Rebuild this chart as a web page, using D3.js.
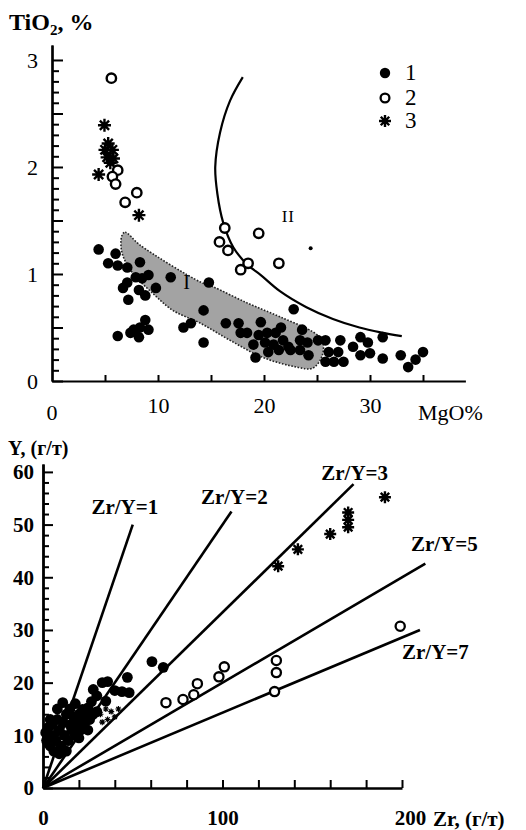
<!DOCTYPE html>
<html><head><meta charset="utf-8">
<script src="https://cdn.jsdelivr.net/npm/d3@7"></script>
<style>
body{margin:0;background:#fff}
text{font-family:"Liberation Serif","Times New Roman",serif;fill:#000}
</style>
</head><body><svg id="c" width="526" height="830"></svg>
<script>
// ---------- Upper diagram: TiO2 vs MgO ----------
// [MgO %, TiO2 %]
const mgoTioGroup1 = [
  [4.4,1.23],[6.0,1.19],[5.3,1.10],[6.2,1.08],[8.3,1.11],[7.1,1.06],[7.9,0.97],[8.5,0.96],
  [9.1,0.99],[11.2,0.97],[6.7,0.87],[7.1,0.92],[8.2,0.85],[8.8,0.80],[9.8,0.87],[7.2,0.76],
  [14.8,0.92],[14.3,0.66],[8.8,0.57],[7.7,0.48],[8.3,0.50],[9.1,0.48],[8.2,0.41],[7.4,0.45],
  [6.2,0.42],[12.4,0.50],[13.1,0.54],[14.3,0.36],[22.8,0.67],[16.4,0.54],[17.6,0.54],
  [19.7,0.55],[21.6,0.50],[17.8,0.45],[18.4,0.45],[19.5,0.43],[20.3,0.45],[21.1,0.45],
  [23.6,0.48],[19.0,0.34],[20.1,0.36],[20.9,0.34],[21.8,0.38],[22.3,0.32],[23.4,0.38],
  [24.1,0.36],[25.1,0.38],[25.8,0.38],[19.2,0.22],[20.4,0.27],[21.4,0.29],[22.5,0.29],
  [23.4,0.29],[24.2,0.24],[26.1,0.27],[27.2,0.38],[27.0,0.27],[25.8,0.18],[26.6,0.18],
  [27.5,0.18],[28.4,0.32],[29.1,0.41],[29.8,0.36],[29.1,0.24],[30.0,0.26],[31.2,0.41],
  [31.2,0.21],[32.9,0.24],[33.6,0.13],[34.3,0.20],[35.0,0.27]
];
const mgoTioGroup1Small = [[24.4,1.24]];
const mgoTioGroup2 = [
  [5.6,2.83],[6.2,1.97],[5.7,1.91],[6.0,1.84],[8.0,1.76],[6.9,1.67],
  [16.3,1.43],[15.8,1.30],[16.6,1.22],[19.5,1.38],[18.5,1.10],[17.8,1.04],[21.4,1.10]
];
const mgoTioGroup3 = [
  [4.95,2.39],[5.3,2.22],[5.0,2.16],[5.7,2.16],[5.2,2.09],[5.8,2.08],[5.5,2.04],[4.4,1.93],[8.2,1.55]
];
// boundary of field II
const fieldIICurve = [
  [18.0,2.84],[16.8,2.62],[15.85,2.32],[15.4,2.0],[15.6,1.75],[16.15,1.48],[17.1,1.25],
  [18.4,1.09],[19.7,0.99],[21.5,0.84],[24.0,0.69],[26.5,0.58],[29.0,0.50],[31.0,0.455],[33.0,0.42]
];
// outline of field I
const fieldIOutline = [
  [6.6,1.36],[6.9,1.39],[8.3,1.27],[14.0,0.925],[15.2,0.88],[18.4,0.73],[21.5,0.60],
  [24.6,0.46],[25.5,0.38],[25.5,0.24],[24.6,0.12],[23.1,0.13],[19.9,0.22],[16.8,0.38],
  [14.0,0.54],[11.4,0.66],[9.5,0.82],[7.6,1.01],[6.6,1.20]
];
const topYLabels = [0,1,2,3];
const topXLabels = [0,10,20,30];
const legendItems = ["1","2","3"];

// ---------- Lower diagram: Y vs Zr ----------
// [Zr g/t, Y g/t]
const zrYGroup1 = [
  [60.7,24.0],[67,22.9],[47,21.0],[44,18.3],[48,18.1],[33,20],[36,20.2],[28,18.7],[30,17.5],
  [11,16.2],[27,16.4],[22,14.9],[25,15.2],[35,16.5],[40,18.5],
  [2,9],[3,11.5],[4,8],[5,12],[6,10],[7,9],[8,13],[9,11],[10,8],[11,12.5],[12,10],[13,14],
  [14,9],[15,12],[16,11],[17,13.5],[18,10],[19,12],[20,14],[21,11],[22,13],[23,12],[24,14],
  [26,13],[28,14],[30,14.5],[6,7],[9,6.5],[13,7],[4,13],[8,15],[15,15],[18,16],[3,8.5],
  [1.5,10.5],[20,9.5],[25,11]
];
const zrYGroup2 = [
  [199,30.7],[130,24.2],[130,21.9],[129,18.3],[101,23.0],[98,21.1],[86,19.8],[84,17.7],[78,16.8],[68.5,16.2]
];
const zrYGroup3 = [[131,42.1],[142,45.3],[160,48.2],[170,52.3],[170,50.9],[170,49.5],[190.5,55.2]];
const zrYGroup3Small = [[32,14],[35,15],[38,14.5],[40,13.5],[36,13],[42,15],[33,12.5]];
const ratioLines = [
  {ratio:1, zrEnd:50,  label:"Zr/Y=1"},
  {ratio:2, zrEnd:105, label:"Zr/Y=2"},
  {ratio:3, zrEnd:173, label:"Zr/Y=3"},
  {ratio:5, zrEnd:213, label:"Zr/Y=5"},
  {ratio:7, zrEnd:210, label:"Zr/Y=7"}
];
const ratioLabelPos = [[27,52],[88,54],[155,58.5],[205,45],[200,24.5]];
const botYLabels = [0,10,20,30,40,50,60];
const botXLabels = [0,100,200];

const svg = d3.select("#c");

function starPath(r){
  let p = "";
  for (let i=0;i<4;i++){
    const a = Math.PI/2 + i*Math.PI/4;
    const dx = r*Math.cos(a), dy = r*Math.sin(a);
    p += `M${-dx},${-dy}L${dx},${dy}`;
  }
  return p;
}

// ================= upper =================
const xT = d3.scaleLinear().domain([0,39]).range([52,465.4]);
const yT = d3.scaleLinear().domain([0,3.14]).range([381,45]);
const gTop = svg.append("g");

// field I
gTop.append("path")
  .datum(fieldIOutline)
  .attr("d", d3.line().x(d=>xT(d[0])).y(d=>yT(d[1])).curve(d3.curveCatmullRomClosed))
  .attr("fill","#a3a3a3").attr("stroke","#222").attr("stroke-width",1.6)
  .attr("stroke-dasharray","1.6,1.6");

// field II boundary
gTop.append("path")
  .datum(fieldIICurve)
  .attr("d", d3.line().x(d=>xT(d[0])).y(d=>yT(d[1])).curve(d3.curveCatmullRom))
  .attr("fill","none").attr("stroke","#000").attr("stroke-width",2.2);

gTop.append("text").attr("x",xT(12.7)).attr("y",yT(0.86)).attr("font-size",20).attr("text-anchor","middle").text("I");
gTop.append("text").attr("x",xT(22.3)).attr("y",yT(1.49)).attr("font-size",17).attr("text-anchor","middle").attr("letter-spacing",1).text("II");

// axes
const yMinorT = d3.range(0,31).map(i=>i/10).filter(v=>Math.round(v*10)%5!==0);
const yMajorT = d3.range(0,7).map(i=>i/2);
gTop.append("g").attr("transform",`translate(${xT(0)},0)`)
  .call(d3.axisLeft(yT).tickValues(yMinorT).tickSize(-7).tickSizeOuter(0).tickFormat(""));
gTop.append("g").attr("transform",`translate(${xT(0)},0)`)
  .call(d3.axisLeft(yT).tickValues(yMajorT).tickSize(-11).tickSizeOuter(0).tickPadding(14)
    .tickFormat(d=>topYLabels.includes(d)?d:""));
gTop.append("g").attr("transform",`translate(0,${yT(0)})`)
  .call(d3.axisBottom(xT).tickValues(d3.range(5,36,5)).tickSize(-6).tickSizeOuter(0)
    .tickPadding(16).tickFormat(d=>topXLabels.includes(d)?d:""));
gTop.append("text").attr("x",xT(0)).attr("y",420).attr("font-size",22).attr("text-anchor","middle").text("0");
gTop.selectAll(".domain").attr("stroke-width",2.2);
gTop.selectAll(".tick line").attr("stroke-width",2);
gTop.selectAll(".tick text").attr("font-size",22).attr("font-family","Liberation Serif");
gTop.append("text").attr("x",418).attr("y",420).attr("font-size",22).text("MgO%");

const tt = gTop.append("text").attr("x",9).attr("y",30).attr("font-size",24).attr("font-weight","bold");
tt.append("tspan").text("TiO");
tt.append("tspan").attr("font-size",15).attr("dy",5).text("2");
tt.append("tspan").attr("dy",-5).text(", %");

// points
gTop.selectAll(".f1").data(mgoTioGroup1).join("circle")
  .attr("cx",d=>xT(d[0])).attr("cy",d=>yT(d[1])).attr("r",5.3).attr("fill","#000");
gTop.selectAll(".f1s").data(mgoTioGroup1Small).join("circle")
  .attr("cx",d=>xT(d[0])).attr("cy",d=>yT(d[1])).attr("r",2).attr("fill","#000");
gTop.selectAll(".f2").data(mgoTioGroup2).join("circle")
  .attr("cx",d=>xT(d[0])).attr("cy",d=>yT(d[1])).attr("r",4.7)
  .attr("fill","#fff").attr("stroke","#000").attr("stroke-width",2.4);
gTop.selectAll(".f3").data(mgoTioGroup3).join("path")
  .attr("transform",d=>`translate(${xT(d[0])},${yT(d[1])})`).attr("d",starPath(6.5))
  .attr("stroke","#000").attr("stroke-width",2.4).attr("fill","none");

// legend
const lg = gTop.append("g");
const legY = [73,98,121];
lg.append("circle").attr("cx",385).attr("cy",legY[0]).attr("r",5.2).attr("fill","#000");
lg.append("circle").attr("cx",385).attr("cy",legY[1]).attr("r",4.4).attr("fill","#fff").attr("stroke","#000").attr("stroke-width",2.3);
lg.append("path").attr("transform",`translate(385,${legY[2]})`).attr("d",starPath(6)).attr("stroke","#000").attr("stroke-width",2.4);
lg.selectAll("text").data(legendItems).join("text")
  .attr("x",405).attr("y",(d,i)=>legY[i]+7).attr("font-size",23).text(d=>d);

// ================= lower =================
const xB = d3.scaleLinear().domain([0,200]).range([43,402]);
const yB = d3.scaleLinear().domain([0,61.5]).range([788,464]);
const gBot = svg.append("g");

// ratio lines
gBot.selectAll(".rl").data(ratioLines).join("line")
  .attr("x1",xB(0)).attr("y1",yB(0))
  .attr("x2",d=>xB(d.zrEnd)).attr("y2",d=>yB(d.zrEnd/d.ratio))
  .attr("stroke","#000").attr("stroke-width",2.6);
gBot.selectAll(".rlt").data(ratioLines).join("text")
  .attr("x",(d,i)=>xB(ratioLabelPos[i][0])).attr("y",(d,i)=>yB(ratioLabelPos[i][1]))
  .attr("font-size",21).attr("font-weight","bold").text(d=>d.label);

// axes
const yMinorB = d3.range(0,62,2).filter(v=>v%10!==0);
gBot.append("g").attr("transform",`translate(${xB(0)},0)`)
  .call(d3.axisLeft(yB).tickValues(yMinorB).tickSize(-6).tickSizeOuter(0).tickFormat(""));
gBot.append("g").attr("transform",`translate(${xB(0)},0)`)
  .call(d3.axisLeft(yB).tickValues(botYLabels).tickSize(-10).tickSizeOuter(0).tickPadding(9));
gBot.append("g").attr("transform",`translate(0,${yB(0)})`)
  .call(d3.axisBottom(xB).tickValues(d3.range(0,201,20)).tickSize(-8).tickSizeOuter(0)
    .tickPadding(22).tickFormat(d=>botXLabels.includes(d)?d:""));
gBot.selectAll(".domain").attr("stroke-width",2.4);
gBot.selectAll(".tick line").attr("stroke-width",2);
gBot.selectAll(".tick text").attr("font-size",21).attr("font-weight","bold").attr("font-family","Liberation Serif");
gBot.selectAll(".tick text").filter(d=>d===200).attr("dx",8);
gBot.append("text").attr("x",433).attr("y",826).attr("font-size",21).attr("font-weight","bold").text("Zr, (г/т)");
gBot.append("text").attr("x",8).attr("y",455).attr("font-size",20).attr("font-weight","bold").text("Y, (г/т)");

// points
gBot.selectAll(".b1").data(zrYGroup1).join("circle")
  .attr("cx",d=>xB(d[0])).attr("cy",d=>yB(d[1])).attr("r",5.4).attr("fill","#000");
gBot.selectAll(".b2").data(zrYGroup2).join("circle")
  .attr("cx",d=>xB(d[0])).attr("cy",d=>yB(d[1])).attr("r",4.6)
  .attr("fill","#fff").attr("stroke","#000").attr("stroke-width",2.3);
gBot.selectAll(".b3").data(zrYGroup3).join("path")
  .attr("transform",d=>`translate(${xB(d[0])},${yB(d[1])})`).attr("d",starPath(6))
  .attr("stroke","#000").attr("stroke-width",2.4);
gBot.selectAll(".b3s").data(zrYGroup3Small).join("path")
  .attr("transform",d=>`translate(${xB(d[0])},${yB(d[1])})`).attr("d",starPath(3))
  .attr("stroke","#000").attr("stroke-width",1.2);
</script></body></html>
